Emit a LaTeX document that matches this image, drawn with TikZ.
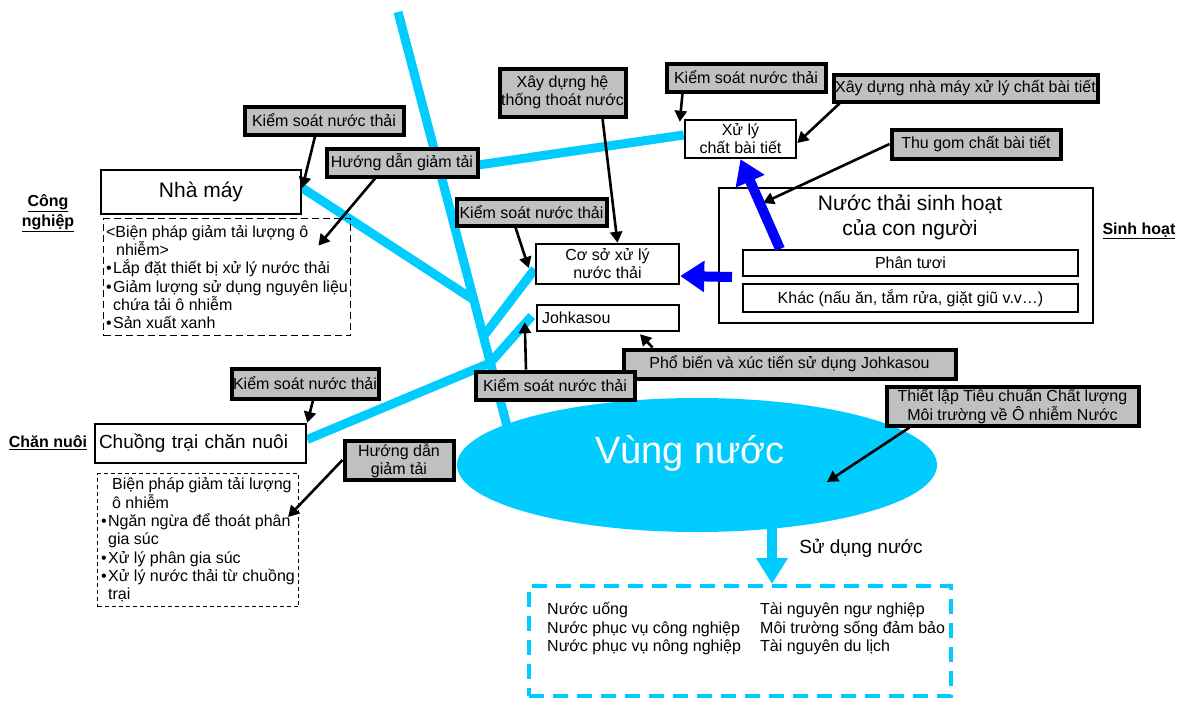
\documentclass[tikz,border=0pt]{standalone}
\usepackage{fontspec}
\setmainfont{Liberation Sans}
\usepackage{tikz}
\usetikzlibrary{arrows.meta,backgrounds}
\definecolor{riverCyan}{HTML}{00CCFF}
\definecolor{calloutGray}{HTML}{C0C0C0}
\definecolor{flowBlue}{HTML}{0000FF}
\tikzset{
  plainBox/.style={draw, line width=2.5pt, fill=white, inner sep=0pt, align=center, font=\fontsize{16}{18}\selectfont},
  calloutBox/.style={draw, line width=4pt, fill=calloutGray, inner sep=0pt, align=center, font=\fontsize{16}{18.5}\selectfont},
  dashBox/.style={draw, line width=1.8pt, dash pattern=on 7pt off 4pt, inner sep=0pt, align=left, font=\fontsize{16}{18.3}\selectfont},
  secLbl/.style={font=\fontsize{16}{20}\selectfont\bfseries, align=center},
  bigTxt/.style={font=\fontsize{21}{25}\selectfont, align=center},
  smallTxt/.style={font=\fontsize{16}{18.5}\selectfont, align=left, inner sep=0pt},
  riverLine/.style={draw=riverCyan, line width=9pt},
  blackArr/.style={draw, line width=2.6pt, -{Triangle[length=11pt,width=12pt]}},
  blueArr/.style={draw=flowBlue, line width=10pt, -{Triangle[length=24pt,width=30pt]}},
}
\newcommand{\BulMark}{\makebox[7pt][l]{•}}

\begin{document}
\begin{tikzpicture}[x=1pt,y=-1pt]
  \useasboundingbox (0,0) rectangle (1184,702);

  % sources
  \node[secLbl] (lblcn) at (48,213) {\underline{Công}\\\underline{nghiệp}};
  \node[plainBox, minimum width=200pt, minimum height=44pt, font=\fontsize{21}{25}\selectfont] (nhamay) at (201,192) {Nhà máy};
  \node[dashBox, minimum width=247pt, minimum height=117pt] (dash1) at (227,277)
    {<Biện pháp giảm tải lượng ô\\\hspace*{10pt}nhiễm>\\\BulMark Lắp đặt thiết bị xử lý nước thải\\\BulMark Giảm lượng sử dụng nguyên liệu\\\hspace*{7pt}chứa tải ô nhiễm\\\BulMark Sản xuất xanh};

  \node[secLbl] (lblchn) at (48,443) {\underline{Chăn nuôi}};
  \node[plainBox, minimum width=211pt, minimum height=39pt, align=left, text width=203pt, inner xsep=4pt, font=\fontsize{19}{22}\selectfont] (chuong) at (200.5,443.5) {Chuồng trại chăn nuôi};
  \node[dashBox, line width=1.1pt, dash pattern=on 4pt off 3pt, minimum width=201pt, minimum height=133pt] (dash2) at (198,540)
    {\hspace*{11pt}Biện pháp giảm tải lượng\\\hspace*{11pt}ô nhiễm\\\BulMark Ngăn ngừa để thoát phân\\\hspace*{7pt}gia súc\\\BulMark Xử lý phân gia súc\\\BulMark Xử lý nước thải từ chuồng\\\hspace*{7pt}trại};

  \node[plainBox, minimum width=143pt, minimum height=40pt] (coso) at (607.5,264) {Cơ sở xử lý\\nước thải};
  \node[plainBox, minimum width=142pt, minimum height=26pt, align=left, text width=132pt, inner xsep=5pt] (johka) at (608,318) {Johkasou};
  \node[plainBox, minimum width=111pt, minimum height=38pt] (xuly) at (740.5,139) {Xử lý\\chất bài tiết};

  \node[plainBox, line width=2pt, minimum width=374pt, minimum height=135pt] (sh) at (906,255.5) {};
  \node[bigTxt] (shtitle) at (910,217) {Nước thải sinh hoạt\\của con người};
  \node[plainBox, line width=2pt, minimum width=335pt, minimum height=26pt] (phan) at (910.5,263) {Phân tươi};
  \node[plainBox, line width=2pt, minimum width=335pt, minimum height=28pt] (khac) at (910.5,298) {Khác (nấu ăn, tắm rửa, giặt giũ v.v…)};
  \node[secLbl] (lblsh) at (1139,231) {\underline{Sinh hoạt}};

  % river network
  \coordinate (src) at (398,12);
  \coordinate (j0) at (437,171);
  \coordinate (j1) at (474,300);
  \coordinate (j2) at (483,337);
  \coordinate (j3) at (490,363);
  \coordinate (mouth) at (512,445);
  \coordinate (vung) at (697,465);
  \coordinate (vungout) at (772,528);
  \begin{scope}[on background layer]
    \draw[riverLine] (src) -- (mouth);
    \draw[riverLine] ([yshift=4pt]xuly.west) -- (j0);
    \draw[riverLine] ([yshift=4pt]nhamay.east) -- (j1);
    \draw[riverLine] ([yshift=-5pt]coso.west) -- (j2);
    \draw[riverLine] ([xshift=-4pt,yshift=2pt]johka.west) -- (j3);
    \draw[riverLine] ([yshift=4pt]chuong.east) -- (j3);
    \fill[riverCyan] (vung) ellipse [x radius=240pt, y radius=67pt];
  \end{scope}
  \node[text=white, font=\fontsize{38}{40}\selectfont] (vungtxt) at (690,453) {Vùng nước};

  % water use
  \node[draw=riverCyan, line width=4pt, dash pattern=on 15pt off 9pt, minimum width=422pt, minimum height=110pt, inner sep=0pt] (use) at (740,641) {};
  \node[smallTxt, anchor=west] (usel) at (547,629) {Nước uống\\Nước phục vụ công nghiệp\\Nước phục vụ nông nghiệp};
  \node[smallTxt, anchor=west] (user) at (760,629) {Tài nguyên ngư nghiệp\\Môi trường sống đảm bảo\\Tài nguyên du lịch};
  \node[smallTxt, font=\fontsize{19}{22}\selectfont] (sdn) at (861,548) {Sử dụng nước};
  \draw[riverCyan, line width=10pt, -{Triangle[length=26pt,width=30pt]}] (vungout) -- ([xshift=32pt]use.north);

  % measures
  \node[calloutBox, minimum width=159pt, minimum height=28pt] (ks1) at (324,120.5) {Kiểm soát nước thải};
  \node[calloutBox, minimum width=151pt, minimum height=28pt] (hd1) at (402,162.5) {Hướng dẫn giảm tải};
  \node[calloutBox, minimum width=126pt, minimum height=48pt] (xd1) at (562.5,92.5) {Xây dựng hệ\\thống thoát nước};
  \node[calloutBox, minimum width=150pt, minimum height=27pt] (ks2) at (531.5,212) {Kiểm soát nước thải};
  \node[calloutBox, minimum width=332pt, minimum height=29pt] (pb) at (789.5,364) {Phổ biến và xúc tiến sử dụng Johkasou};
  \node[calloutBox, minimum width=159pt, minimum height=28pt] (ks3) at (555,385.5) {Kiểm soát nước thải};
  \node[calloutBox, minimum width=252pt, minimum height=39pt] (tl) at (1012.5,406) {Thiết lập Tiêu chuẩn Chất lượng\\Môi trường về Ô nhiễm Nước};
  \node[calloutBox, minimum width=159pt, minimum height=28pt] (ks4) at (746,77.5) {Kiểm soát nước thải};
  \node[calloutBox, minimum width=264pt, minimum height=27pt] (xd2) at (965.5,88) {Xây dựng nhà máy xử lý chất bài tiết};
  \node[calloutBox, minimum width=169pt, minimum height=29pt] (tg) at (976,144) {Thu gom chất bài tiết};
  \node[calloutBox, minimum width=147pt, minimum height=30pt] (ks5) at (305,383.5) {Kiểm soát nước thải};
  \node[calloutBox, minimum width=109pt, minimum height=39pt] (hd2) at (399,460) {Hướng dẫn\\giảm tải};

  \draw[blackArr] ([xshift=-9pt]ks1.south) -- ([yshift=4pt]nhamay.east);
  \draw[blackArr] ([xshift=-27pt]hd1.south) -- ([xshift=-33pt,yshift=-28pt]dash1.north east);
  \draw[blackArr] ([xshift=40pt]xd1.south) -- ([xshift=10pt]coso.north);
  \draw[blackArr] ([xshift=-16pt]ks2.south) -- ([xshift=-6pt,yshift=-4pt]coso.west);
  \draw[blackArr] ([xshift=-29pt]ks3.north) -- ([xshift=-11pt,yshift=10pt]johka.south west);
  \draw[blackArr] ([xshift=31pt]pb.north west) -- ([xshift=32pt,yshift=-2pt]johka.south);
  \draw[blackArr] ([xshift=18pt]ks4.south west) -- ([xshift=-4pt,yshift=-3pt]xuly.north west);
  \draw[blackArr] ([xshift=8pt]xd2.south west) -- ([yshift=-4pt]xuly.east);
  \draw[blackArr] (tg.west) -- ([xshift=45pt,yshift=-16pt]sh.north west);
  \draw[blackArr] ([xshift=8pt]ks5.south) -- (chuong.north east);
  \draw[blackArr] (hd2.west) -- ([xshift=-11pt,yshift=-44pt]dash2.north east);
  \draw[blackArr] ([xshift=25pt]tl.south west) -- ([xshift=130pt,yshift=-17pt]vung);

  \draw[blueArr] ([xshift=38pt]phan.north west) -- (xuly.south);
  \draw[blueArr] ([xshift=-10pt]phan.south west) -- ([yshift=-12pt]coso.east);
\end{tikzpicture}
\end{document}
